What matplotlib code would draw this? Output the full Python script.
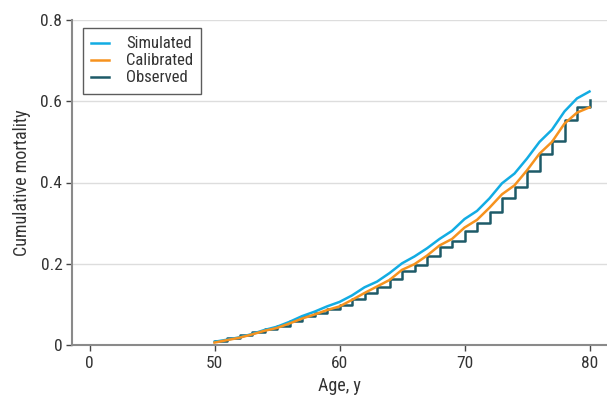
import matplotlib
matplotlib.use("Agg")
import matplotlib.pyplot as plt
import numpy as np

# ages 50..80
ages = list(range(50, 81))

simulated = [0.008, 0.013, 0.019, 0.027, 0.037, 0.045, 0.057, 0.071, 0.082, 0.095,
             0.106, 0.122, 0.142, 0.156, 0.177, 0.201, 0.218, 0.238, 0.261, 0.281,
             0.310, 0.330, 0.361, 0.398, 0.422, 0.459, 0.500, 0.530, 0.575, 0.607,
             0.624]

calibrated = [0.006, 0.012, 0.018, 0.026, 0.035, 0.042, 0.053, 0.065, 0.075, 0.086,
              0.095, 0.111, 0.128, 0.144, 0.160, 0.185, 0.199, 0.220, 0.245, 0.261,
              0.289, 0.308, 0.338, 0.371, 0.393, 0.430, 0.471, 0.500, 0.545, 0.572,
              0.585]

# level held over [age, age+1); last value is the jump at 80
observed = [0.010, 0.017, 0.024, 0.032, 0.040, 0.048, 0.060, 0.071, 0.078, 0.089,
            0.098, 0.114, 0.129, 0.144, 0.162, 0.181, 0.197, 0.218, 0.241, 0.257,
            0.281, 0.300, 0.328, 0.363, 0.389, 0.428, 0.471, 0.502, 0.553, 0.585,
            0.604]

xtick_pos = [40, 50, 60, 70, 80]   # axis is broken: "0" sits one decade left of 50
xtick_labels = ["0", "50", "60", "70", "80"]
yticks = [0, 0.2, 0.4, 0.6, 0.8]
ytick_labels = ["0", "0.2", "0.4", "0.6", "0.8"]

blue = "#12ACE3"
orange = "#F6921E"
teal = "#1D5A68"
txt = "#333333"

plt.rcParams['font.family'] = ['Roboto Condensed', 'Open Sans Condensed',
                               'Liberation Sans Narrow', 'Roboto', 'DejaVu Sans']

fig = plt.figure(figsize=(6.07, 3.96), dpi=100)
ax = fig.add_axes([72/607, 51/396, 535/607, 325/396])

ax.plot(ages, simulated, color=blue, lw=1.8, label="Simulated", zorder=3)
ax.plot(ages, calibrated, color=orange, lw=1.8, label="Calibrated", zorder=4)
ax.step(ages, observed, where="post", color=teal, lw=1.8, label="Observed", zorder=2)

ax.set_xlim(38.6, 81.4)
ax.set_ylim(0, 0.8)
ax.set_xticks(xtick_pos)
ax.set_xticklabels(xtick_labels)
ax.set_yticks(yticks)
ax.set_yticklabels(ytick_labels)

ax.grid(axis="y", color="#dddddd", lw=1.0, zorder=0)
ax.set_axisbelow(True)
for s in ["top", "right"]:
    ax.spines[s].set_visible(False)
for s in ["left", "bottom"]:
    ax.spines[s].set_color("#8a8a8a")
    ax.spines[s].set_linewidth(1.5)

ax.tick_params(axis="both", colors="#444444", labelcolor=txt, labelsize=12.5,
               length=4, width=1.0)
ax.tick_params(axis="x", pad=4)
ax.tick_params(axis="y", pad=3)
ax.set_xlabel("Age, y", fontsize=13, color=txt, labelpad=4)
ax.set_ylabel("Cumulative mortality", fontsize=13, color=txt, labelpad=7)

leg = ax.legend(loc="upper left", bbox_to_anchor=(0.02, 0.975), borderaxespad=0,
                fancybox=False, fontsize=12, handlelength=1.1, handletextpad=1.0,
                labelspacing=0.12, borderpad=0.5)
leg.get_frame().set_edgecolor("#333333")
leg.get_frame().set_linewidth(1.0)
for t in leg.get_texts():
    t.set_color(txt)

fig.savefig("out.png", dpi=100)
